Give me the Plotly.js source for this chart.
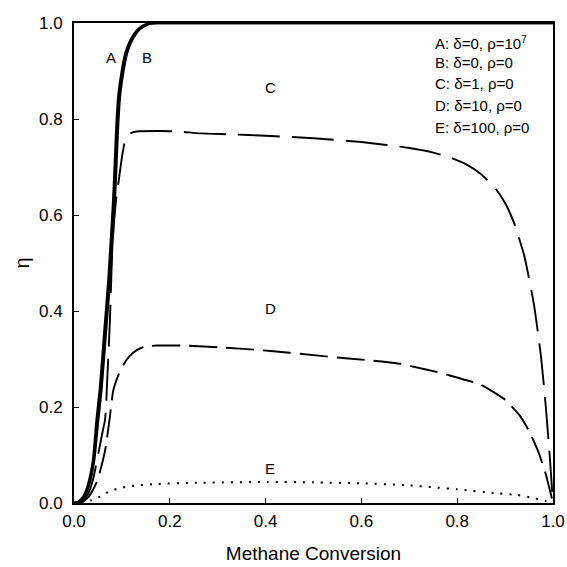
<!DOCTYPE html>
<html>
<head>
<meta charset="utf-8">
<script src="https://cdn.plot.ly/plotly-3.0.1.min.js"></script>
<style>html,body{margin:0;padding:0;background:#fff;}#chart{width:567px;height:567px;}</style>
</head>
<body>
<div id="chart"></div>
<script>
// Curve A: delta=0, rho=1e7
const xA = [0, 0.01, 0.02, 0.03, 0.04, 0.047, 0.054, 0.063, 0.072, 0.078, 0.082, 0.086, 0.089, 0.093, 0.1, 0.107, 0.115, 0.125, 0.135, 0.15, 0.17, 0.2, 0.4, 0.6, 0.8, 1.0];
const yA = [0, 0.003, 0.014, 0.04, 0.09, 0.17, 0.235, 0.35, 0.465, 0.56, 0.63, 0.72, 0.79, 0.85, 0.9, 0.935, 0.958, 0.976, 0.988, 0.997, 1.0, 1, 1, 1, 1, 1];
// Curve B: delta=0, rho=0
const xB = [0, 0.012, 0.022, 0.032, 0.042, 0.05, 0.057, 0.066, 0.075, 0.081, 0.085, 0.089, 0.092, 0.096, 0.103, 0.11, 0.118, 0.128, 0.138, 0.153, 0.173, 0.2, 0.4, 0.6, 0.8, 1.0];
const yB = [0, 0.003, 0.014, 0.04, 0.09, 0.17, 0.235, 0.35, 0.465, 0.56, 0.63, 0.72, 0.79, 0.85, 0.9, 0.935, 0.958, 0.976, 0.988, 0.997, 1.0, 1, 1, 1, 1, 1];
// Curve C: delta=1, rho=0
const xC = [0.012, 0.02, 0.03, 0.04, 0.051, 0.058, 0.065, 0.07, 0.075, 0.081, 0.089, 0.093, 0.1, 0.107, 0.115, 0.122, 0.131, 0.18, 0.218, 0.264, 0.33, 0.4, 0.5, 0.6, 0.697, 0.75, 0.785, 0.82, 0.85, 0.88, 0.9, 0.92, 0.94, 0.96, 0.975, 0.985, 0.993, 1.0];
const yC = [0, 0.005, 0.02, 0.05, 0.104, 0.14, 0.175, 0.27, 0.38, 0.555, 0.642, 0.669, 0.72, 0.756, 0.768, 0.772, 0.774, 0.775, 0.774, 0.770, 0.768, 0.765, 0.760, 0.752, 0.740, 0.73, 0.72, 0.705, 0.685, 0.655, 0.625, 0.58, 0.515, 0.415, 0.305, 0.2, 0.1, 0.0];
// Curve D: delta=10, rho=0
const xD = [0.012, 0.02, 0.03, 0.04, 0.05, 0.065, 0.075, 0.082, 0.092, 0.103, 0.115, 0.13, 0.145, 0.16, 0.173, 0.232, 0.309, 0.382, 0.45, 0.55, 0.62, 0.682, 0.703, 0.762, 0.78, 0.839, 0.856, 0.9, 0.93, 0.95, 0.97, 0.985, 1.0];
const yD = [0, 0.004, 0.012, 0.028, 0.05, 0.11, 0.18, 0.235, 0.265, 0.2875, 0.305, 0.318, 0.325, 0.327, 0.328, 0.328, 0.324, 0.319, 0.313, 0.303, 0.297, 0.29, 0.285, 0.272, 0.267, 0.25, 0.243, 0.215, 0.183, 0.15, 0.105, 0.06, 0.0];
// Curve E: delta=100, rho=0
const xE = [0.015, 0.037, 0.058, 0.075, 0.096, 0.115, 0.134, 0.173, 0.25, 0.403, 0.5, 0.598, 0.689, 0.8, 0.884, 0.926, 0.96, 0.985, 1.0];
const yE = [0, 0.006, 0.015, 0.025, 0.031, 0.035, 0.037, 0.0396, 0.042, 0.044, 0.043, 0.041, 0.0375, 0.0285, 0.020, 0.0167, 0.01, 0.004, 0];

const curveLabels = ['A', 'B', 'C', 'D', 'E'];
const curveLabelX = [0.077, 0.152, 0.41, 0.41, 0.41];
const curveLabelY = [0.929, 0.928, 0.865, 0.405, 0.072];

const legendLines = ['A: \u03b4=0, \u03c1=10<sup>7</sup>', 'B: \u03b4=0, \u03c1=0', 'C: \u03b4=1, \u03c1=0', 'D: \u03b4=10, \u03c1=0', 'E: \u03b4=100, \u03c1=0'];
const legendY = [0.96, 0.918, 0.875, 0.828, 0.783];

const xTicks = [0, 0.2, 0.4, 0.6, 0.8, 1.0];
const yTicks = [0, 0.2, 0.4, 0.6, 0.8, 1.0];

const FONT = '"Liberation Sans", Arial, sans-serif';

function tr(x, y, dash, width) {
  return {x: x, y: y, type: 'scatter', mode: 'lines', hoverinfo: 'skip',
    line: {color: '#000', width: width, dash: dash, shape: 'spline', smoothing: 0.5}};
}
const data = [
  tr(xA, yA, 'solid', 2.6),
  tr(xB, yB, 'solid', 2.6),
  tr(xC, yC, '42px,12px', 1.9),
  tr(xD, yD, '28px,9px', 1.9),
  tr(xE, yE, '2px,7px', 2)
];

const annotations = [];
curveLabels.forEach((t, i) => annotations.push({x: curveLabelX[i], y: curveLabelY[i], xref: 'x', yref: 'y', text: t, showarrow: false, font: {family: FONT, size: 15, color: '#000'}}));
legendLines.forEach((t, i) => annotations.push({x: 0.75, y: legendY[i], xref: 'x', yref: 'y', text: t, xanchor: 'left', showarrow: false, font: {family: FONT, size: 15, color: '#000'}}));

const layout = {
  width: 567, height: 567,
  margin: {l: 74, r: 14, t: 23, b: 64, pad: 0},
  paper_bgcolor: '#fff', plot_bgcolor: '#fff',
  showlegend: false, hovermode: false,
  font: {family: FONT, color: '#000'},
  xaxis: {range: [0, 1], tickvals: xTicks, tickformat: '.1f', ticks: 'inside', ticklen: 5, tickwidth: 1, tickcolor: '#000',
    showline: true, mirror: true, linecolor: '#000', linewidth: 2, showgrid: false, zeroline: false,
    tickfont: {family: FONT, size: 17}, ticklabelstandoff: 2,
    title: {text: 'Methane Conversion', font: {family: FONT, size: 19}, standoff: 16}},
  yaxis: {range: [0, 1], tickvals: yTicks, tickformat: '.1f', ticks: 'inside', ticklen: 5, tickwidth: 1, tickcolor: '#000',
    showline: true, mirror: true, linecolor: '#000', linewidth: 2, showgrid: false, zeroline: false,
    tickfont: {family: FONT, size: 17}, ticklabelstandoff: 6,
    title: {text: '\u03b7', font: {family: FONT, size: 20}, standoff: 4}},
  annotations: annotations
};
Plotly.newPlot('chart', data, layout, {staticPlot: true, displayModeBar: false});
</script>
</body>
</html>
